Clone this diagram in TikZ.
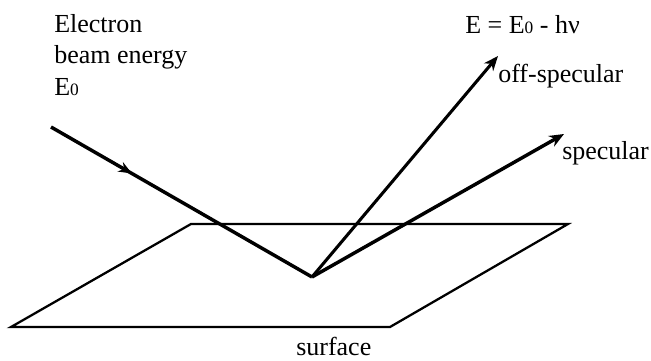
\documentclass[tikz,border=0pt]{standalone}
\usepackage{fontspec}
\setmainfont{Liberation Serif}
\usetikzlibrary{arrows.meta,decorations.markings}
\newcommand{\lowidx}[1]{{\fontsize{13}{13}\selectfont #1}}
\tikzset{
  beam/.style={line width=2.6pt,-{Stealth[length=11pt,width=9pt]}},
  plane/.style={line width=1.7pt,line join=miter},
  lbl/.style={font=\fontsize{19.5}{23.6}\selectfont,inner sep=0pt,anchor=base west},
  midarrow/.style={postaction={decorate},decoration={markings,
    mark=at position 0.31 with {\arrow{Stealth[length=10pt,width=8pt]}}}}
}
\begin{document}
\begin{tikzpicture}[x=0.75pt,y=-0.75pt]
  \useasboundingbox (0,0) rectangle (651,361);
  % surface plane
  \draw[plane] (11,327) -- (390,327) -- (568,224) -- (191,224) -- cycle;
  % beam points
  \coordinate (src) at (51,127);
  \coordinate (hit) at (312,277);
  \coordinate (offtip) at (498,56);
  \coordinate (spectip) at (564,134);
  \draw[line width=2.6pt,midarrow,line join=miter] (src) -- (hit);
  \draw[beam,line width=2.3pt] (hit) -- (offtip);
  \draw[beam] (hit) -- (spectip);
  % labels
  \node[lbl,align=left] (ebeam) at (54,95) {Electron\\beam energy\\E\lowidx{0}};
  \node[lbl] (eloss) at (465,33) {E = E\lowidx{0} - hν};
  \node[lbl] (offlbl) at (498,82) {off-specular};
  \node[lbl] (speclbl) at (562,159) {specular};
  \node[lbl] (surflbl) at (296,355) {surface};
\end{tikzpicture}
\end{document}
